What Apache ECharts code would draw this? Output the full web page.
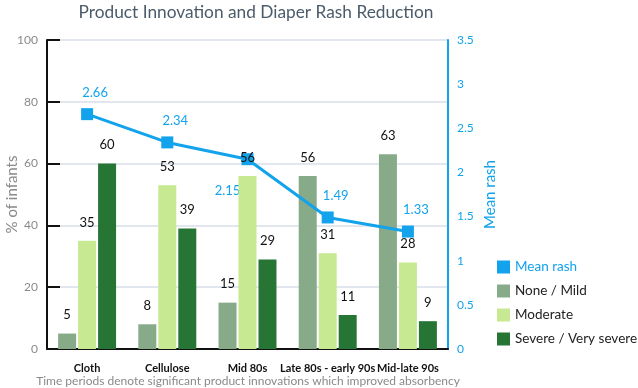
<!DOCTYPE html>
<html><head><meta charset="utf-8">
<script src="https://cdn.jsdelivr.net/npm/echarts@6/dist/echarts.min.js"></script>
<style>html,body{margin:0;padding:0;background:#fff}#c{width:638px;height:388px}</style>
</head><body><div id="c"></div>
<script>
const categories = ['Cloth', 'Cellulose', 'Mid 80s', 'Late 80s - early 90s', 'Mid-late 90s'];
const noneMild = [5, 8, 15, 56, 63];
const moderate = [35, 53, 56, 31, 28];
const severe = [60, 39, 29, 11, 9];
const meanRash = [2.66, 2.34, 2.15, 1.49, 1.33];
const leftTicks = [0, 20, 40, 60, 80, 100];
const rightTicks = [0, 0.5, 1, 1.5, 2, 2.5, 3, 3.5];

const FONT = 'Lato';
const BLUE = '#12a3ec';
const chart = echarts.init(document.getElementById('c'));
const barLabel = {show: true, position: 'top', distance: 12, color: '#111', fontSize: 13, fontFamily: FONT};
const lineData = meanRash.map((v, i) => i === 2
  ? {value: v, label: {position: 'bottom', offset: [-20, 10]}}
  : {value: v, label: {offset: [8, 0]}});
chart.setOption({
  animation: false,
  textStyle: {fontFamily: FONT},
  title: {
    text: 'Product Innovation and Diaper Rash Reduction',
    left: 251, top: -1, textAlign: 'center',
    textStyle: {fontSize: 17.3, fontWeight: 'normal', color: '#4b5b6a', fontFamily: FONT}
  },
  graphic: [{
    type: 'text', x: 248, y: 381, style: {
      text: 'Time periods denote significant product innovations which improved absorbency',
      fontSize: 12, fill: '#8a8a8a', fontFamily: FONT, align: 'center', verticalAlign: 'middle'
    }
  }],
  legend: {
    orient: 'vertical', left: 497, top: 260, padding: 0, itemWidth: 13, itemHeight: 13, itemGap: 10,
    textStyle: {fontSize: 13.5, color: '#222', fontFamily: FONT},
    data: [
      {name: 'Mean rash', icon: 'rect', textStyle: {color: BLUE}},
      {name: 'None / Mild', icon: 'rect'},
      {name: 'Moderate', icon: 'rect'},
      {name: 'Severe / Very severe', icon: 'rect'}
    ]
  },
  grid: {left: 47, right: 190, top: 40, bottom: 39, outerBoundsMode: 'none', containLabel: false},
  xAxis: {
    type: 'category', data: categories,
    axisLine: {lineStyle: {color: '#111', width: 2}},
    axisTick: {show: false},
    axisLabel: {color: '#111', fontSize: 11, fontWeight: 'bold', margin: 14, interval: 0}
  },
  yAxis: [{
    type: 'value', min: 0, max: 100, interval: 20,
    name: '% of infants', nameLocation: 'middle', nameGap: 27, nameMoveOverlap: false,
    nameTextStyle: {color: '#8a8a8a', fontSize: 15},
    axisLine: {show: true, lineStyle: {color: '#111', width: 2}},
    axisTick: {show: true, inside: true, length: 13, lineStyle: {color: '#111', width: 2}},
    axisLabel: {color: '#8a8a8a', fontSize: 12, margin: 9,
      formatter: v => leftTicks.includes(v) ? String(v) : ''},
    splitLine: {lineStyle: {color: '#e2e7ef', width: 2}}
  }, {
    type: 'value', min: 0, max: 3.5, interval: 0.5,
    name: 'Mean rash', nameLocation: 'middle', nameGap: 35, nameMoveOverlap: false,
    nameTextStyle: {color: BLUE, fontSize: 15},
    axisLine: {show: true, lineStyle: {color: BLUE, width: 2}},
    axisTick: {show: false},
    axisLabel: {color: BLUE, fontSize: 12, margin: 9,
      formatter: v => rightTicks.includes(v) ? String(v) : ''},
    splitLine: {show: false}
  }],
  series: [{
    name: 'None / Mild', type: 'bar', data: noneMild, barWidth: 18, barGap: '11%', z: 2,
    itemStyle: {color: '#87aa88'}, label: barLabel
  }, {
    name: 'Moderate', type: 'bar', data: moderate, barWidth: 18, barGap: '11%', z: 6,
    itemStyle: {color: '#c6e991'}, label: barLabel
  }, {
    name: 'Severe / Very severe', type: 'bar', data: severe, barWidth: 18, barGap: '11%', z: 2,
    itemStyle: {color: '#267535'}, label: barLabel
  }, {
    name: 'Mean rash', type: 'line', yAxisIndex: 1, data: lineData,
    symbol: 'rect', symbolSize: 12, z: 5,
    lineStyle: {color: BLUE, width: 3}, itemStyle: {color: BLUE},
    label: {show: true, position: 'top', distance: 9, color: BLUE, fontSize: 13}
  }]
});
</script></body></html>
